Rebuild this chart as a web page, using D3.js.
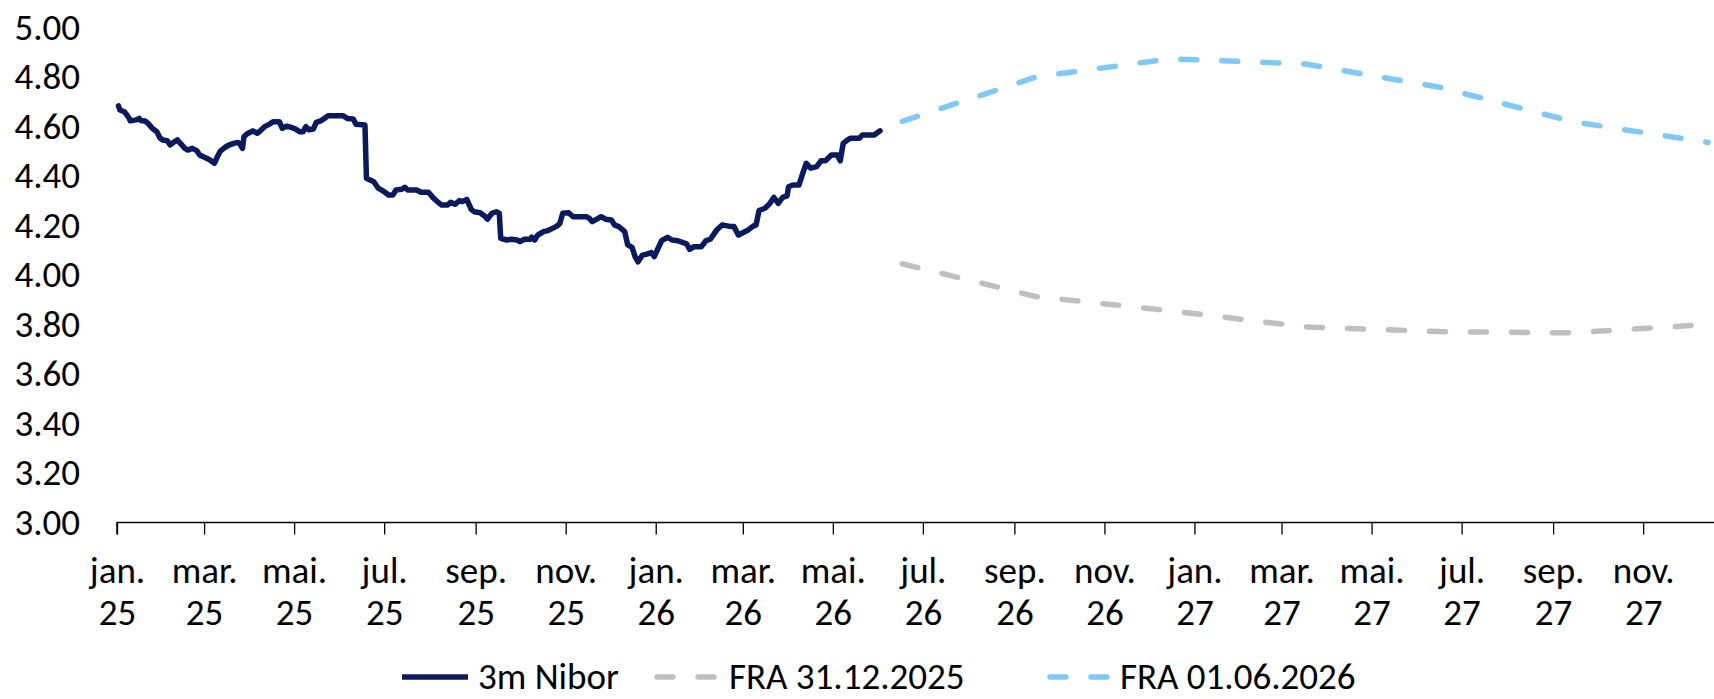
<!DOCTYPE html>
<html>
<head>
<meta charset="utf-8">
<script src="https://cdn.jsdelivr.net/npm/d3@7"></script>
<style>
  html, body { margin: 0; padding: 0; background: #ffffff; }
  svg { display: block; }
  text { font-family: Carlito, Calibri, Lato, "Open Sans", sans-serif; fill: #000; }
</style>
</head>
<body>
<svg id="chart" width="1714" height="699"></svg>
<script>
// ---------------- DATA ----------------
const seriesNames = ["3m Nibor", "FRA 31.12.2025", "FRA 01.06.2026"];

const niborDates = [
  "2025-01-02","2025-01-03","2025-01-06","2025-01-09","2025-01-10","2025-01-14","2025-01-16","2025-01-17",
  "2025-01-20","2025-01-22","2025-01-25","2025-01-28","2025-01-30","2025-02-01","2025-02-04","2025-02-06",
  "2025-02-08","2025-02-11","2025-02-13","2025-02-16","2025-02-18","2025-02-21","2025-02-24","2025-02-26",
  "2025-03-02","2025-03-05","2025-03-08","2025-03-10","2025-03-12","2025-03-15","2025-03-17","2025-03-21",
  "2025-03-24","2025-03-25","2025-03-27","2025-03-28","2025-03-30","2025-04-03","2025-04-06","2025-04-08",
  "2025-04-11","2025-04-14","2025-04-17","2025-04-21","2025-04-23","2025-04-26","2025-04-29","2025-05-02",
  "2025-05-05","2025-05-07","2025-05-09","2025-05-11","2025-05-14","2025-05-16","2025-05-19","2025-05-21",
  "2025-05-24","2025-06-03","2025-06-06","2025-06-10","2025-06-12","2025-06-18","2025-06-19","2025-06-24",
  "2025-06-27","2025-07-01","2025-07-04","2025-07-07","2025-07-09","2025-07-13","2025-07-15","2025-07-17",
  "2025-07-23","2025-07-26","2025-07-31","2025-08-03","2025-08-06","2025-08-09","2025-08-13","2025-08-15",
  "2025-08-18","2025-08-21","2025-08-23","2025-08-26","2025-08-29","2025-08-31","2025-09-04","2025-09-07",
  "2025-09-09","2025-09-12","2025-09-15","2025-09-17","2025-09-18","2025-09-22","2025-09-25","2025-09-29",
  "2025-10-01","2025-10-04","2025-10-08","2025-10-09","2025-10-11","2025-10-13","2025-10-17","2025-10-20",
  "2025-10-23","2025-10-26","2025-10-28","2025-10-30","2025-11-03","2025-11-06","2025-11-15","2025-11-17",
  "2025-11-19","2025-11-23","2025-11-25","2025-11-28","2025-12-02","2025-12-04","2025-12-07","2025-12-11",
  "2025-12-13","2025-12-16","2025-12-18","2025-12-20","2025-12-23","2025-12-26","2025-12-29","2025-12-31",
  "2026-01-02","2026-01-05","2026-01-09","2026-01-12","2026-01-16","2026-01-22","2026-01-24","2026-01-27",
  "2026-02-01","2026-02-04","2026-02-07","2026-02-11","2026-02-15","2026-02-21","2026-02-23","2026-02-26",
  "2026-03-01","2026-03-04","2026-03-08","2026-03-10","2026-03-12","2026-03-16","2026-03-19","2026-03-22",
  "2026-03-25","2026-03-28","2026-03-31","2026-04-01","2026-04-04","2026-04-08","2026-04-11","2026-04-13",
  "2026-04-16","2026-04-20","2026-04-23","2026-04-26","2026-04-30","2026-05-04","2026-05-06","2026-05-08",
  "2026-05-11","2026-05-13","2026-05-19","2026-05-21","2026-05-29","2026-06-02"
];
const niborValues = [
  4.683,4.666,4.659,4.635,4.622,4.626,4.632,4.624,
  4.622,4.612,4.592,4.578,4.554,4.545,4.542,4.525,
  4.534,4.545,4.531,4.511,4.504,4.511,4.502,4.484,
  4.473,4.464,4.451,4.477,4.500,4.514,4.522,4.531,
  4.535,4.531,4.511,4.558,4.569,4.582,4.572,4.581,
  4.599,4.608,4.619,4.619,4.592,4.601,4.596,4.589,
  4.578,4.578,4.599,4.586,4.589,4.616,4.622,4.630,
  4.643,4.643,4.632,4.630,4.608,4.605,4.390,4.376,
  4.350,4.336,4.323,4.323,4.343,4.346,4.354,4.343,
  4.343,4.334,4.334,4.313,4.296,4.282,4.282,4.293,
  4.285,4.300,4.296,4.305,4.265,4.255,4.251,4.238,
  4.225,4.249,4.255,4.249,4.148,4.141,4.144,4.141,
  4.134,4.144,4.144,4.152,4.141,4.161,4.175,4.179,
  4.188,4.197,4.208,4.249,4.251,4.235,4.235,4.228,
  4.215,4.228,4.235,4.225,4.222,4.202,4.195,4.175,
  4.121,4.111,4.074,4.053,4.080,4.084,4.090,4.074,
  4.100,4.138,4.152,4.141,4.138,4.125,4.103,4.114,
  4.114,4.138,4.144,4.179,4.202,4.195,4.195,4.161,
  4.170,4.179,4.197,4.202,4.260,4.269,4.286,4.313,
  4.289,4.313,4.319,4.356,4.363,4.363,4.417,4.451,
  4.431,4.437,4.461,4.461,4.484,4.484,4.461,4.531,
  4.545,4.552,4.552,4.565,4.565,4.582
];

const fraDates = ["2026-06-17","2026-09-16","2026-12-16","2027-03-17","2027-06-16","2027-09-15","2027-12-15"];
const fra311225 = [4.045, 3.912, 3.855, 3.790, 3.771, 3.766, 3.800];
const fra010626 = [4.620, 4.800, 4.873, 4.852, 4.758, 4.618, 4.535];

const yTicks = [3.0, 3.2, 3.4, 3.6, 3.8, 4.0, 4.2, 4.4, 4.6, 4.8, 5.0];
const xTickDates = ["2025-01-01","2025-03-01","2025-05-01","2025-07-01","2025-09-01","2025-11-01",
                    "2026-01-01","2026-03-01","2026-05-01","2026-07-01","2026-09-01","2026-11-01",
                    "2027-01-01","2027-03-01","2027-05-01","2027-07-01","2027-09-01","2027-11-01"];
const monthNames = ["jan.","feb.","mar.","apr.","mai.","jun.","jul.","aug.","sep.","okt.","nov.","des."];
const xDomain = ["2025-01-01", "2027-12-19"];
const yDomain = [3.0, 5.0];

const colors = { nibor: "#0A1A5C", fra1: "#BFBFBF", fra2: "#80C8F8" };

// ---------------- CHART ----------------
const parse = d3.timeParse("%Y-%m-%d");
const svg = d3.select("#chart");
const plot = { left: 117, right: 1714, top: 27.3, bottom: 522.5 };

const x = d3.scaleTime().domain(xDomain.map(parse)).range([plot.left, plot.right]);
const y = d3.scaleLinear().domain(yDomain).range([plot.bottom, plot.top]);

const FS = 37;
const FF = "Carlito, Calibri, Lato, 'Open Sans', sans-serif";

// Y axis labels (no axis line)
const yAxis = d3.axisLeft(y).tickValues(yTicks).tickFormat(d3.format(".2f")).tickSize(0).tickPadding(0);
const gy = svg.append("g").attr("transform", `translate(${80},0)`).call(yAxis);
gy.select(".domain").remove();
gy.selectAll("text").attr("font-size", FS).attr("fill", "#000").style("font-family", FF);

// X axis
const xAxis = d3.axisBottom(x).tickValues(xTickDates.map(parse)).tickSize(12).tickFormat("");
const gx = svg.append("g").attr("transform", `translate(0,${plot.bottom})`).call(xAxis);
gx.select(".domain").attr("stroke", "#000").attr("stroke-width", 1.5)
  .attr("d", `M${plot.left},12V0H${plot.right}`);
gx.selectAll(".tick line").attr("stroke", "#000").attr("stroke-width", 1.3);
gx.selectAll(".tick").each(function(d) {
  const t = d3.select(this).append("text")
    .attr("text-anchor", "middle").attr("font-size", FS).attr("fill", "#000")
    .style("font-family", FF);
  t.append("tspan").attr("x", 0).attr("y", 48).attr("dy", "0.35em").text(monthNames[d.getMonth()]);
  t.append("tspan").attr("x", 0).attr("y", 90).attr("dy", "0.35em").text(String(d.getFullYear()).slice(2));
});

// Clip
svg.append("clipPath").attr("id", "clip").append("rect")
  .attr("x", plot.left - 5).attr("y", 0).attr("width", plot.right - plot.left + 5).attr("height", plot.bottom);

const line = d3.line().x(d => x(d[0])).y(d => y(d[1]));
const lines = svg.append("g").attr("clip-path", "url(#clip)");

const fraD = fraDates.map(parse);
lines.append("path").datum(fraD.map((d, i) => [d, fra311225[i]]))
  .attr("d", line).attr("fill", "none").attr("stroke", colors.fra1)
  .attr("stroke-width", 5.5).attr("stroke-dasharray", "16,25").attr("stroke-linecap", "round");
lines.append("path").datum(fraD.map((d, i) => [d, fra010626[i]]))
  .attr("d", line).attr("fill", "none").attr("stroke", colors.fra2)
  .attr("stroke-width", 5.5).attr("stroke-dasharray", "16,25").attr("stroke-linecap", "round");
lines.append("path").datum(niborDates.map((d, i) => [parse(d), niborValues[i]]))
  .attr("d", line).attr("fill", "none").attr("stroke", colors.nibor)
  .attr("stroke-width", 5.5).attr("stroke-linejoin", "round").attr("stroke-linecap", "round");

// Legend
const legendY = 677;
const legendItems = [
  { name: seriesNames[0], color: colors.nibor, dash: null, x0: 402, x1: 468, tx: 478 },
  { name: seriesNames[1], color: colors.fra1, dash: "16,25", x0: 657, x1: 716, tx: 729 },
  { name: seriesNames[2], color: colors.fra2, dash: "16,25", x0: 1050, x1: 1110, tx: 1120 }
];
const lg = svg.append("g");
legendItems.forEach(it => {
  const l = lg.append("line").attr("x1", it.x0).attr("x2", it.x1).attr("y1", legendY).attr("y2", legendY)
    .attr("stroke", it.color).attr("stroke-width", 5.5);
  if (it.dash) l.attr("stroke-dasharray", it.dash).attr("stroke-linecap", "round");
  lg.append("text").attr("x", it.tx).attr("y", legendY).attr("dy", "0.33em")
    .attr("font-size", FS).style("font-family", FF).text(it.name);
});
</script>
</body>
</html>
